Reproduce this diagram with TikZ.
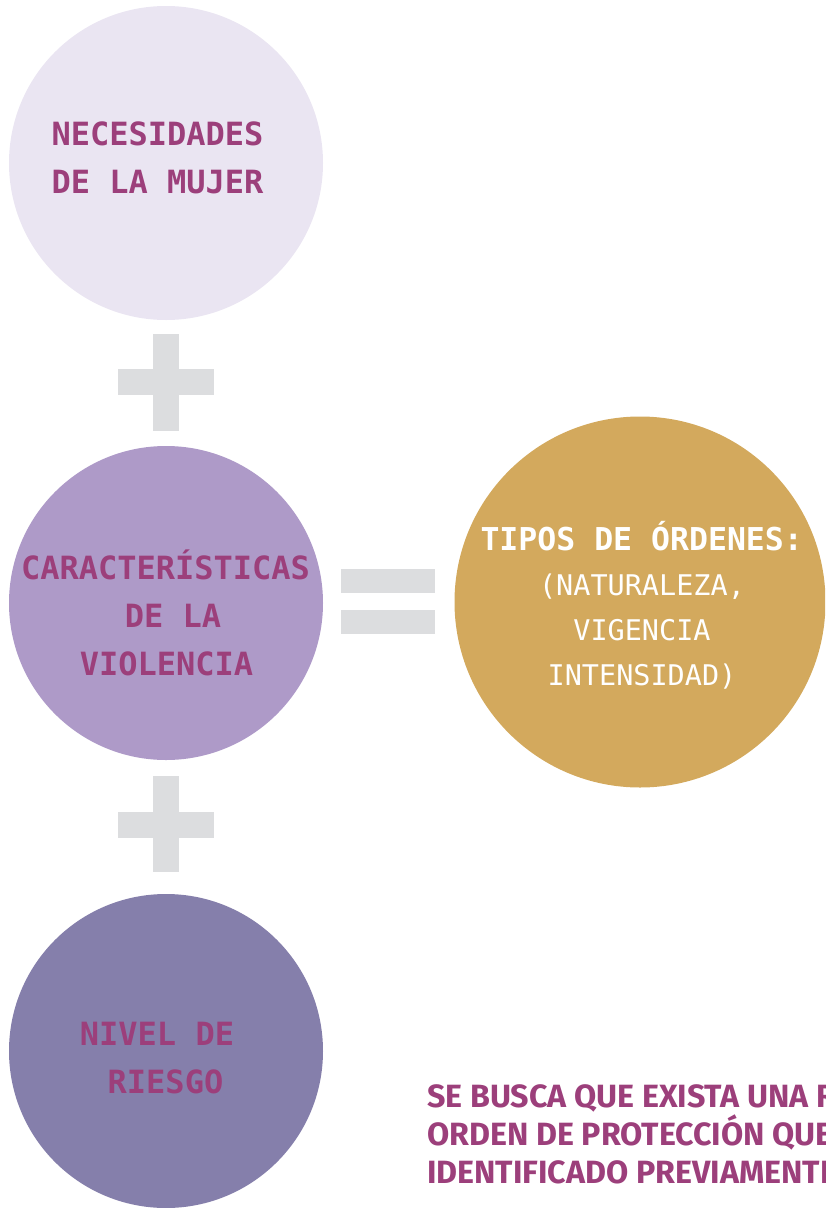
\documentclass[tikz,border=0pt]{standalone}
\usepackage{fontspec}
\newfontfamily\monof{DejaVu Sans Mono}
\newfontfamily\firaf{Fira Sans}
\definecolor{txtpurple}{HTML}{9C3F7B}
\definecolor{cone}{HTML}{EAE5F2}
\definecolor{ctwo}{HTML}{AE9AC8}
\definecolor{cthree}{HTML}{857FAB}
\definecolor{corange}{HTML}{D3A95D}
\definecolor{bargray}{HTML}{DCDDDF}
\begin{document}
\begin{tikzpicture}[x=1pt,y=-1pt,
  circ/.style={circle,inner sep=0pt,minimum size=314pt},
  mono/.style={font=\monof\bfseries\fontsize{32}{48}\selectfont,text=txtpurple,inner sep=0pt,anchor=base},
  monowhite/.style={font=\monof\bfseries\fontsize{31.5}{45}\selectfont,text=white,inner sep=0pt,anchor=base},
  monolight/.style={font=\monof\fontsize{28.5}{45}\selectfont,text=white,inner sep=0pt,anchor=base},
  note/.style={font=\firaf\bfseries\fontsize{32.2}{38}\selectfont,text=txtpurple,inner sep=0pt,anchor=base west},
  bar/.style={fill=bargray}]
\useasboundingbox (0,0) rectangle (825,1208);
\clip (0,0) rectangle (825,1208);
% circles
\node[circ,fill=cone] (need) at (166,163) {};
\node[circ,fill=ctwo] (viol) at (166,603) {};
\node[circ,fill=cthree] (risk) at (166,1051) {};
\node[circle,inner sep=0pt,minimum size=371pt,fill=corange] (types) at (640,602) {};
% plus signs and equals
\fill[bar] (153,334) rectangle (179,431);
\fill[bar] (118,369) rectangle (214,395);
\fill[bar] (153,776) rectangle (179,872);
\fill[bar] (118,812) rectangle (214,838);
\fill[bar] (341,569) rectangle (435,593);
\fill[bar] (341,610) rectangle (435,634);
% texts
\node[mono] (t1a) at (157.5,145) {NECESIDADES};
\node[mono] (t1b) at (157.5,193) {DE LA MUJER};
\node[mono] (t2a) at (165.5,579) {CARACTERÍSTICAS};
\node[mono] (t2b) at (173,627) {DE LA};
\node[mono] (t2c) at (166.5,675) {VIOLENCIA};
\node[mono] (t3a) at (157,1045) {NIVEL DE};
\node[mono] (t3b) at (165.5,1093) {RIESGO};
\node[monowhite] (t4a) at (641.7,550) {TIPOS DE ÓRDENES:};
\node[monolight] (t4b) at (642,595) {(NATURALEZA,};
\node[monolight] (t4c) at (642,640) {VIGENCIA};
\node[monolight] (t4d) at (642,685) {INTENSIDAD)};
\node[note] (n1) at (427,1107) {SE BUSCA QUE EXISTA UNA R};
\node[note] (n2) at (427,1145) {ORDEN DE PROTECCIÓN QUE};
\node[note] (n3) at (427,1183) {IDENTIFICADO PREVIAMENTE};
\end{tikzpicture}
\end{document}
